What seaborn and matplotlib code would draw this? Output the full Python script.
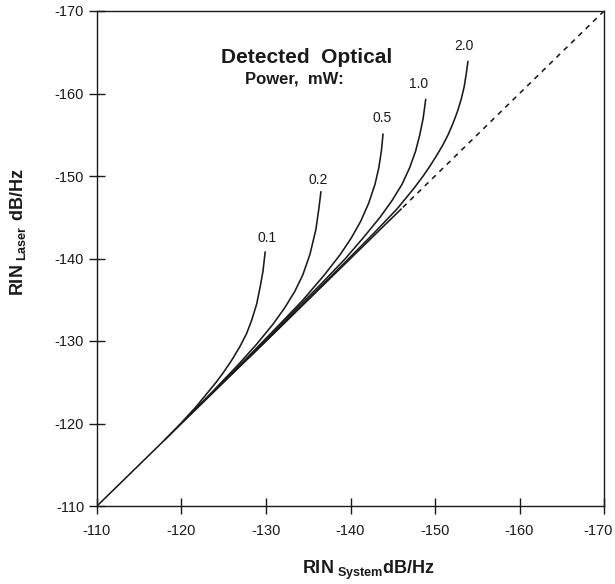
import numpy as np
import pandas as pd
import matplotlib
matplotlib.use("Agg")
import matplotlib.pyplot as plt
import matplotlib.transforms as mtransforms
import seaborn as sns

# valori: RIN di sistema (x) contro RIN del laser (y), dB/Hz
powers = ["0.1", "0.2", "0.5", "1.0", "2.0"]

sys_01 = [-118.0, -119.9, -121.7, -123.3, -124.1, -124.9, -125.9, -126.9, -127.7, -128.3, -128.9, -129.3, -129.65, -129.9]
las_01 = [-118.0, -120.0, -122.0, -124.0, -125.0, -126.1, -127.6, -129.3, -130.9, -132.5, -134.5, -136.5, -138.5, -140.8]

sys_02 = [-120.9, -123.8, -126.6, -128.8, -130.8, -132.2, -133.4, -134.35, -135.2, -135.9, -136.25, -136.5]
las_02 = [-121.0, -124.0, -127.0, -129.5, -132.0, -134.0, -136.0, -138.0, -140.5, -143.5, -146.0, -148.1]

sys_05 = [-123.9, -127.8, -131.6, -134.4, -136.9, -138.8, -140.1, -141.2, -142.15, -142.9, -143.35, -143.65, -143.85]
las_05 = [-124.0, -128.0, -132.0, -135.0, -138.0, -140.5, -142.5, -144.5, -146.7, -149.0, -151.0, -153.0, -155.1]

sys_10 = [-125.95, -129.9, -133.7, -136.6, -139.4, -141.5, -143.5, -144.9, -146.1, -147.0, -147.7, -148.2, -148.6, -148.9]
las_10 = [-126.0, -130.0, -134.0, -137.0, -140.0, -142.5, -145.0, -147.0, -149.0, -151.0, -153.0, -155.0, -157.0, -159.3]

sys_20 = [-128.0, -132.0, -135.9, -139.8, -142.7, -145.5, -147.5, -148.6, -149.4, -150.2, -150.9, -151.55, -152.1, -152.65, -153.1, -153.45, -153.7, -153.9]
las_20 = [-128.0, -132.0, -136.0, -140.0, -143.0, -146.0, -148.5, -150.0, -151.2, -152.5, -153.7, -155.0, -156.3, -157.8, -159.3, -160.8, -162.4, -163.9]

diag_solid = [-110.0, -146.0]
diag_dashed = [-146.0, -170.0]

# posizioni delle etichette delle curve
label_x = [-130.1, -136.2, -143.7, -148.0, -153.4]
label_y = [-142.5, -149.5, -157.0, -161.2, -165.8]

ticks = [-110, -120, -130, -140, -150, -160, -170]

sns.set_theme(style="white")
plt.rcParams['font.family'] = ['Liberation Sans', 'DejaVu Sans']
plt.rcParams['mathtext.fontset'] = 'custom'
plt.rcParams['mathtext.rm'] = 'Liberation Sans'
plt.rcParams['mathtext.bf'] = 'Liberation Sans:bold'

curves = [(sys_01, las_01), (sys_02, las_02), (sys_05, las_05), (sys_10, las_10), (sys_20, las_20)]
frames = []
for p, (xs, ys) in zip(powers, curves):
    frames.append(pd.DataFrame({'sys': xs, 'laser': ys, 'power': p}))
df = pd.concat(frames, ignore_index=True)

fig = plt.figure(figsize=(6.15, 5.84), dpi=100)
ax = fig.add_axes([97 / 615, 1 - 506 / 584, (604 - 97) / 615, (506 - 11) / 584])

sns.lineplot(data=df, x='sys', y='laser', hue='power', units='power', estimator=None,
             sort=False, palette=['#1a1a1a'] * 5, linewidth=1.15, legend=False, ax=ax)
sns.lineplot(x=diag_solid, y=diag_solid, color='#1a1a1a', linewidth=1.15, ax=ax)
sns.lineplot(x=diag_dashed, y=diag_dashed, color='#1a1a1a', linewidth=1.15,
             linestyle=(0, (3.2, 3.2)), ax=ax)

for t, lx, ly in zip(powers, label_x, label_y):
    ax.text(lx, ly, t, fontsize=10, ha='center', va='center', color='#1a1a1a')

ax.text(-134.85, -164.4, 'Detected  Optical', fontsize=15, fontweight='bold',
        ha='center', va='center', color='#1a1a1a')
ax.text(-133.4, -161.8, 'Power,  mW:', fontsize=12, fontweight='bold',
        ha='center', va='center', color='#1a1a1a')

ax.set_xlim(-110, -170)
ax.set_ylim(-110, -170)
ax.set_xticks(ticks)
ax.set_yticks(ticks)
ax.set_xticklabels([str(t) for t in ticks])
ax.set_yticklabels([str(t) for t in ticks])
ax.tick_params(bottom=True, left=True, top=False, right=False,
               direction='inout', length=11.5, width=1.0, color='#1a1a1a',
               labelsize=10.5, labelcolor='#1a1a1a')
ax.tick_params(axis='x', pad=7)
ax.tick_params(axis='y', pad=3.5)
for s in ax.spines.values():
    s.set_visible(True)
    s.set_color('#1a1a1a')
    s.set_linewidth(1.0)

# ultima etichetta un po' a sinistra, come nell'originale
last = ax.get_xticklabels()[-1]
last.set_transform(last.get_transform() + mtransforms.ScaledTranslation(-0.06, 0, fig.dpi_scale_trans))

ax.set_xlabel('')
ax.set_ylabel('')
fig.text(368 / 615, 1 - 570 / 584, r'$\mathbf{RIN}_{\ \mathbf{System}}\mathbf{dB/Hz}$',
         fontsize=13, ha='center', va='center', color='#1a1a1a')
fig.text(18 / 615, 1 - 232 / 584, r'$\mathbf{RIN}_{\ \mathbf{Laser}}\ \mathbf{dB/Hz}$',
         fontsize=13, ha='center', va='center', rotation=90, color='#1a1a1a')

fig.savefig('out.png', dpi=100, facecolor='white')
